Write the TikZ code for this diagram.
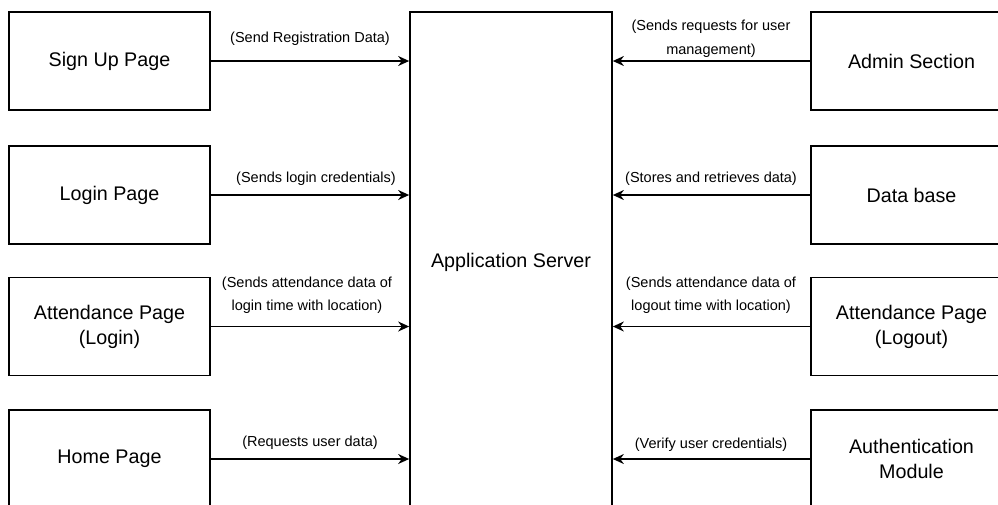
\documentclass[tikz,border=0pt]{standalone}
\usepackage{fontspec}
\setmainfont{Liberation Sans}
\usetikzlibrary{arrows.meta}

\tikzset{
	page/.style={draw, line width=1.7pt, minimum width=201pt, minimum height=98pt,
		inner sep=0pt, align=center, font=\fontsize{19.7}{25}\selectfont},
	msg/.style={inner sep=0pt, align=center, font=\fontsize{14.5}{23.5}\selectfont},
	flow/.style={line width=1.5pt, -{Stealth[length=11pt,width=10pt]}}
}

\begin{document}
\begin{tikzpicture}[x=1pt,y=-1pt]
\useasboundingbox (0,0) rectangle (998,504);
\clip (0,0) rectangle (998,504);

\node[page, minimum width=202pt, minimum height=500pt] (srv) at (511,262) {Application Server};

% left side: pages sending to the server
\foreach \i/\y/\txt in {1/61/Sign Up Page,2/195/Login Page,3/326.5/Attendance Page\\(Login),4/459/Home Page}
{
	\node[page] (l\i) at (109.5,\y) {\txt};
	\draw[flow] (l\i.east) -- (l\i.east -| srv.west);
}

% right side: modules sending to the server
\foreach \i/\y/\txt in {1/61/Admin Section,2/195/Data base,3/326.5/Attendance Page\\(Logout),4/459/Authentication\\Module}
{
	\node[page] (r\i) at (911.5,\y) {\txt};
	\draw[flow] (r\i.west) -- (r\i.west -| srv.east);
}

\node[msg] (ml1) at (310,39) {(Send Registration Data)};
\node[msg] (ml2) at (316,179) {(Sends login credentials)};
\node[msg] (ml3) at (307,295) {(Sends attendance data of\\login time with location)};
\node[msg] (ml4) at (310,443) {(Requests user data)};

\node[msg] (mr1) at (711,38.5) {(Sends requests for user\\management)};
\node[msg] (mr2) at (711,179) {(Stores and retrieves data)};
\node[msg] (mr3) at (711,295) {(Sends attendance data of\\logout time with location)};
\node[msg] (mr4) at (711,445) {(Verify user credentials)};

\end{tikzpicture}
\end{document}
